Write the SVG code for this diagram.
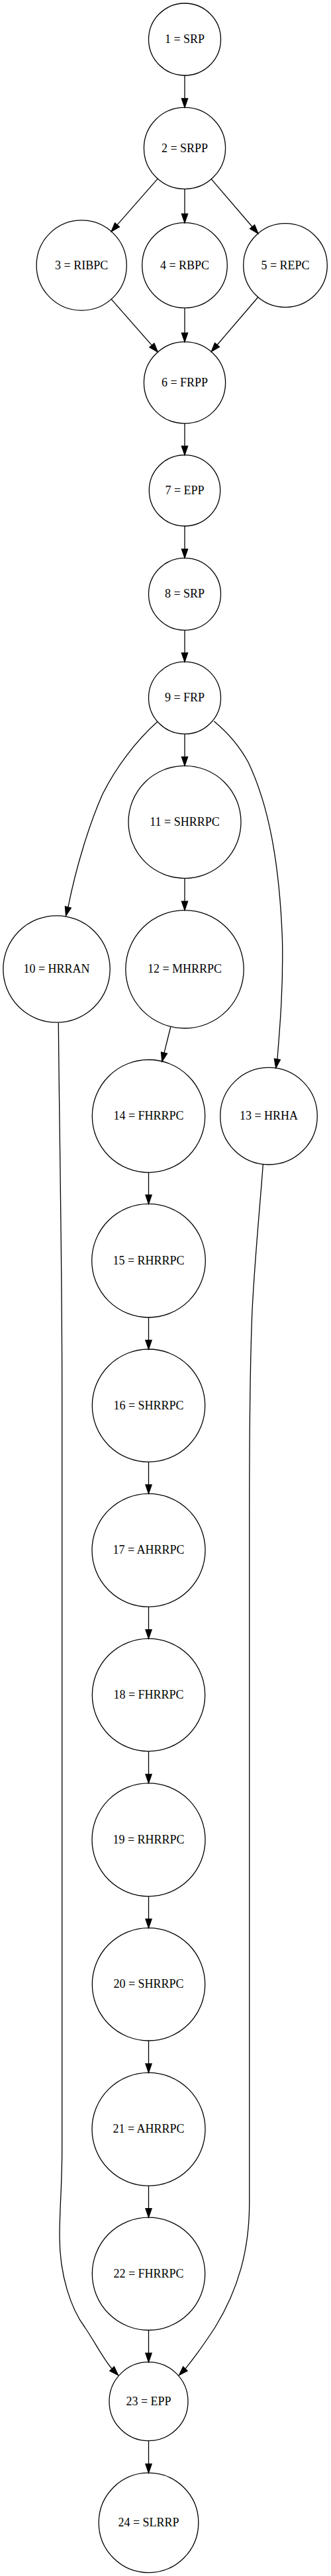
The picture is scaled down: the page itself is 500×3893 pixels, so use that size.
<svg xmlns="http://www.w3.org/2000/svg" width="500" height="3893" viewBox="0 0 500 3893">
<style>
.n circle{fill:none;stroke:#000;stroke-width:1.3}
.n text{font-family:"Liberation Serif","Times New Roman",serif;font-size:18px;text-anchor:middle;fill:#000}
#edges path,#edges line{fill:none;stroke:#000;stroke-width:1.3}
#edges polygon{fill:#000;stroke:#000;stroke-width:1.3}
</style>
<rect width="500" height="3893" fill="#fff"/>
<g id="edges">
<line x1="279" y1="114" x2="279" y2="149"/><polygon points="274.4,149 279,162.5 283.6,149"/>
<line x1="238.2" y1="270.1" x2="177" y2="339.9"/><polygon points="180.45,342.94 168.1,350 173.55,336.86"/>
<line x1="279" y1="285.7" x2="279" y2="323.2"/><polygon points="274.4,323.2 279,336.7 283.6,323.2"/>
<line x1="319.2" y1="270.7" x2="381.1" y2="342.75"/><polygon points="384.6,339.76 389.9,353 377.6,345.74"/>
<line x1="168.1" y1="452.1" x2="229.4" y2="521.9"/><polygon points="232.85,518.86 238.3,532 225.95,524.94"/>
<line x1="279" y1="465.3" x2="279" y2="503.2"/><polygon points="274.4,503.2 279,516.7 283.6,503.2"/>
<line x1="389.9" y1="449" x2="328" y2="521.25"/><polygon points="331.5,524.24 319.2,531.5 324.5,518.26"/>
<line x1="279" y1="640" x2="279" y2="674.2"/><polygon points="274.4,674.2 279,687.7 283.6,674.2"/>
<line x1="279" y1="795" x2="279" y2="829.8"/><polygon points="274.4,829.8 279,843.3 283.6,829.8"/>
<line x1="279" y1="952.3" x2="279" y2="986.7"/><polygon points="274.4,986.7 279,1000.2 283.6,986.7"/>
<line x1="279" y1="1109.2" x2="279" y2="1143.8"/><polygon points="274.4,1143.8 279,1157.3 283.6,1143.8"/>
<path d="M237.7,1090.7 C205,1120 175,1160 155,1200 C135,1245 115,1310 102.9,1370.9"/><polygon points="107.35,1372.05 99.5,1384 98.45,1369.75"/>
<path d="M323.3,1090 C345,1108 362,1128 375,1152 C405,1215 422,1300 426.5,1420 C428,1490 423,1550 418.9,1600.7"/><polygon points="423.4,1601.4 416.7,1614 414.4,1600"/>
<line x1="279" y1="1327.3" x2="279" y2="1362.1"/><polygon points="274.4,1362.1 279,1375.6 283.6,1362.1"/>
<line x1="257.9" y1="1551.4" x2="248" y2="1591.1"/><polygon points="252.5,1592.2 244.8,1604.2 243.5,1590"/>
<path d="M88.3,1545.7 C89.5,1700 93.7,1900 93.7,2100 L93.7,3250 C93.7,3300 90,3340 90,3380 C90,3440 108,3490 128,3517 C142,3537 156,3565 169.1,3579.8"/><polygon points="172.4,3576.6 178.5,3589.5 165.8,3583"/>
<path d="M397.3,1760 C393,1820 385,1900 381,1980 C378,2050 376.7,2150 376.7,2300 L376.7,3330 C376.7,3400 360,3460 325,3517 C310,3540 292,3565 279.9,3579.8"/><polygon points="283.2,3583 270.5,3589.5 276.6,3576.6"/>
<line x1="224.5" y1="1771.9" x2="224.5" y2="1805.9"/><polygon points="219.9,1805.9 224.5,1819.4 229.1,1805.9"/>
<line x1="224.5" y1="1991" x2="224.5" y2="2025.5"/><polygon points="219.9,2025.5 224.5,2039 229.1,2025.5"/>
<line x1="224.5" y1="2209.4" x2="224.5" y2="2243.8"/><polygon points="219.9,2243.8 224.5,2257.3 229.1,2243.8"/>
<line x1="224.5" y1="2428.3" x2="224.5" y2="2462.8"/><polygon points="219.9,2462.8 224.5,2476.3 229.1,2462.8"/>
<line x1="224.5" y1="2646.7" x2="224.5" y2="2681.3"/><polygon points="219.9,2681.3 224.5,2694.8 229.1,2681.3"/>
<line x1="224.5" y1="2865.8" x2="224.5" y2="2900.1"/><polygon points="219.9,2900.1 224.5,2913.6 229.1,2900.1"/>
<line x1="224.5" y1="3084" x2="224.5" y2="3118.8"/><polygon points="219.9,3118.8 224.5,3132.3 229.1,3118.8"/>
<line x1="224.5" y1="3303.3" x2="224.5" y2="3337.6"/><polygon points="219.9,3337.6 224.5,3351.1 229.1,3337.6"/>
<line x1="224.5" y1="3521.5" x2="224.5" y2="3556.2"/><polygon points="219.9,3556.2 224.5,3569.7 229.1,3556.2"/>
<line x1="224.5" y1="3688.7" x2="224.5" y2="3723.7"/><polygon points="219.9,3723.7 224.5,3737.2 229.1,3723.7"/>
</g>
<g id="node1" class="n"><circle cx="279" cy="59.5" r="54.5"/><text x="279" y="65">1 = SRP</text></g>
<g id="node2" class="n"><circle cx="279" cy="224" r="61.6"/><text x="279" y="229.5">2 = SRPP</text></g>
<g id="node3" class="n"><circle cx="123.2" cy="401" r="68.1"/><text x="123.2" y="406.5">3 = RIBPC</text></g>
<g id="node4" class="n"><circle cx="279" cy="401" r="64.3"/><text x="279" y="406.5">4 = RBPC</text></g>
<g id="node5" class="n"><circle cx="431" cy="401" r="63.3"/><text x="431" y="406.5">5 = REPC</text></g>
<g id="node6" class="n"><circle cx="279" cy="578.3" r="61.6"/><text x="279" y="583.8">6 = FRPP</text></g>
<g id="node7" class="n"><circle cx="279" cy="741.3" r="53.7"/><text x="279" y="746.8">7 = EPP</text></g>
<g id="node8" class="n"><circle cx="279" cy="897.8" r="54.5"/><text x="279" y="903.3">8 = SRP</text></g>
<g id="node9" class="n"><circle cx="279" cy="1054.7" r="54.5"/><text x="279" y="1060.2">9 = FRP</text></g>
<g id="node10" class="n"><circle cx="85.5" cy="1464.5" r="80.7"/><text x="85.5" y="1470">10 = HRRAN</text></g>
<g id="node11" class="n"><circle cx="279" cy="1242.3" r="85"/><text x="279" y="1247.8">11 = SHRRPC</text></g>
<g id="node12" class="n"><circle cx="279" cy="1464.8" r="89.2"/><text x="279" y="1470.3">12 = MHRRPC</text></g>
<g id="node13" class="n"><circle cx="406" cy="1686.7" r="73.3"/><text x="406" y="1692.2">13 = HRHA</text></g>
<g id="node14" class="n"><circle cx="224.5" cy="1686.7" r="85.2"/><text x="224.5" y="1692.2">14 = FHRRPC</text></g>
<g id="node15" class="n"><circle cx="224.5" cy="1905.2" r="85.8"/><text x="224.5" y="1910.7">15 = RHRRPC</text></g>
<g id="node16" class="n"><circle cx="224.5" cy="2124.2" r="85.2"/><text x="224.5" y="2129.7">16 = SHRRPC</text></g>
<g id="node17" class="n"><circle cx="224.5" cy="2342.8" r="85.5"/><text x="224.5" y="2348.3">17 = AHRRPC</text></g>
<g id="node18" class="n"><circle cx="224.5" cy="2561.5" r="85.2"/><text x="224.5" y="2567">18 = FHRRPC</text></g>
<g id="node19" class="n"><circle cx="224.5" cy="2780.3" r="85.5"/><text x="224.5" y="2785.8">19 = RHRRPC</text></g>
<g id="node20" class="n"><circle cx="224.5" cy="2998.8" r="85.2"/><text x="224.5" y="3004.3">20 = SHRRPC</text></g>
<g id="node21" class="n"><circle cx="224.5" cy="3217.8" r="85.5"/><text x="224.5" y="3223.3">21 = AHRRPC</text></g>
<g id="node22" class="n"><circle cx="224.5" cy="3436.3" r="85.2"/><text x="224.5" y="3441.8">22 = FHRRPC</text></g>
<g id="node23" class="n"><circle cx="224.5" cy="3629.2" r="59.5"/><text x="224.5" y="3634.7">23 = EPP</text></g>
<g id="node24" class="n"><circle cx="224.5" cy="3812.5" r="75.3"/><text x="224.5" y="3818">24 = SLRRP</text></g>
</svg>
